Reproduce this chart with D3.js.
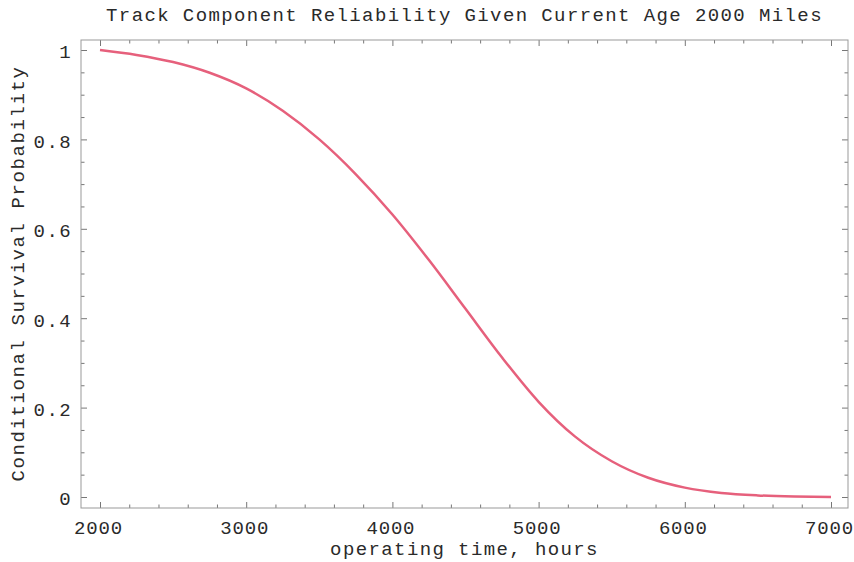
<!DOCTYPE html>
<html>
<head>
<meta charset="utf-8">
<script src="https://cdn.jsdelivr.net/npm/d3@7"></script>
<style>
  html, body { margin: 0; padding: 0; background: #fff; }
  svg text { font-family: "Liberation Mono", "Courier New", monospace; fill: #2a2a2a; }
</style>
</head>
<body>
<svg id="chart" width="854" height="562"></svg>
<script>
// Operating time (hours) and conditional survival probability given current age
const hours = [2000, 2250, 2500, 2750, 3000, 3250, 3500, 3750, 4000, 4250, 4500,
               4750, 5000, 5250, 5500, 5750, 6000, 6250, 6500, 6750, 7000];
const survival = [1.000, 0.989, 0.973, 0.949, 0.914, 0.864, 0.800, 0.722, 0.632, 0.530, 0.421,
                  0.312, 0.213, 0.135, 0.080, 0.043, 0.021, 0.009, 0.0035, 0.001, 0.000];
const xMajorTicks = [2000, 3000, 4000, 5000, 6000, 7000];
const yMajorTicks = [0, 0.2, 0.4, 0.6, 0.8, 1];
const titleText = "Track Component Reliability Given Current Age 2000 Miles";
const xLabel = "operating time, hours";
const yLabel = "Conditional Survival Probability";

const svg = d3.select("#chart");
const frame = { left: 81, right: 848, top: 40, bottom: 508 };

const x = d3.scaleLinear().domain([2000, 7000]).range([100, 831]);
const y = d3.scaleLinear().domain([0, 1]).range([497, 50]);

const xMinor = d3.range(2000, 7001, 200).filter(v => v % 1000 !== 0);
const yMinor = d3.range(0, 21).map(i => i * 0.05).filter((v, i) => i % 4 !== 0);

const fmtY = d => (d === 0 || d === 1) ? String(d) : d3.format(".1f")(d);
const fontSize = 19, spacing = "1.4px", tickSpacing = "0.8px";

function styleAxis(g, labels) {
  g.select(".domain").remove();
  g.selectAll(".tick line").attr("stroke", "#777").attr("stroke-width", 1);
  if (labels) {
    g.selectAll(".tick text").attr("font-size", fontSize).attr("letter-spacing", tickSpacing)
      .attr("fill", "#2a2a2a").attr("font-family", null);
  } else {
    g.selectAll(".tick text").remove();
  }
}

// Bottom axis: labelled majors, inward ticks
const gB = svg.append("g").attr("transform", `translate(0,${frame.bottom})`)
  .call(d3.axisBottom(x).tickValues(xMajorTicks).tickSize(-6).tickFormat(d3.format("d")));
styleAxis(gB, true);
gB.selectAll(".tick text").attr("dy", null).attr("y", 26).attr("dx", -2);
svg.append("g").attr("transform", `translate(0,${frame.bottom})`)
  .call(d3.axisBottom(x).tickValues(xMinor).tickSize(-3.5)).call(g => styleAxis(g, false));

// Top axis: mirrored ticks, no labels
svg.append("g").attr("transform", `translate(0,${frame.top})`)
  .call(d3.axisTop(x).tickValues(xMajorTicks).tickSize(-6)).call(g => styleAxis(g, false));
svg.append("g").attr("transform", `translate(0,${frame.top})`)
  .call(d3.axisTop(x).tickValues(xMinor).tickSize(-3.5)).call(g => styleAxis(g, false));

// Left axis: labelled majors
const gL = svg.append("g").attr("transform", `translate(${frame.left},0)`)
  .call(d3.axisLeft(y).tickValues(yMajorTicks).tickSize(-6).tickFormat(fmtY));
styleAxis(gL, true);
gL.selectAll(".tick text").attr("x", -9).attr("dy", "0.42em").attr("letter-spacing", spacing);
svg.append("g").attr("transform", `translate(${frame.left},0)`)
  .call(d3.axisLeft(y).tickValues(yMinor).tickSize(-3.5)).call(g => styleAxis(g, false));

// Right axis: mirrored ticks
svg.append("g").attr("transform", `translate(${frame.right},0)`)
  .call(d3.axisRight(y).tickValues(yMajorTicks).tickSize(-6)).call(g => styleAxis(g, false));
svg.append("g").attr("transform", `translate(${frame.right},0)`)
  .call(d3.axisRight(y).tickValues(yMinor).tickSize(-3.5)).call(g => styleAxis(g, false));

// Frame
svg.append("rect")
  .attr("x", frame.left).attr("y", frame.top)
  .attr("width", frame.right - frame.left).attr("height", frame.bottom - frame.top)
  .attr("fill", "none").attr("stroke", "#999").attr("stroke-width", 1);

// Survival curve
const line = d3.line()
  .x((d, i) => x(hours[i]))
  .y(d => y(d))
  .curve(d3.curveMonotoneX);
svg.append("path")
  .datum(survival)
  .attr("d", line)
  .attr("fill", "none")
  .attr("stroke", "#e6607c")
  .attr("stroke-width", 2.5)
  .attr("stroke-linejoin", "round");

// Title and axis labels
svg.append("text")
  .attr("x", (frame.left + frame.right) / 2).attr("y", 21)
  .attr("text-anchor", "middle").attr("font-size", fontSize).attr("letter-spacing", spacing)
  .text(titleText);
svg.append("text")
  .attr("x", (frame.left + frame.right) / 2).attr("y", 555)
  .attr("text-anchor", "middle").attr("font-size", fontSize).attr("letter-spacing", spacing)
  .text(xLabel);
svg.append("text")
  .attr("transform", `translate(24,${(y(0) + y(1)) / 2}) rotate(-90)`)
  .attr("text-anchor", "middle").attr("font-size", fontSize).attr("letter-spacing", "1.6px")
  .text(yLabel);
</script>
</body>
</html>
